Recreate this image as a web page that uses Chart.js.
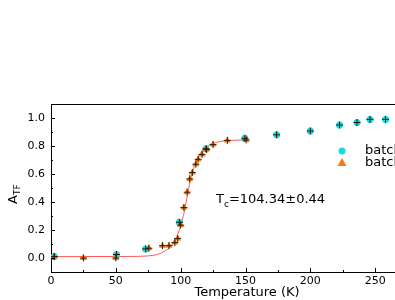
<!DOCTYPE html>
<html>
<head>
<meta charset="utf-8">
<script src="https://cdn.jsdelivr.net/npm/chart.js@4/dist/chart.umd.min.js"></script>
<style>
html,body{margin:0;padding:0;background:#fff;overflow:hidden;width:395px;height:300px;}
#wrap{position:absolute;left:0;top:0;width:445px;height:300px;}
</style>
</head>
<body>
<div id="wrap"><canvas id="c" width="445" height="300"></canvas></div>
<script>
// ---- data ----
const batch1Label = "batch1";
const batch2Label = "batch2";
const batch1T = [2.5, 50.5, 73, 99, 119.5, 149.5, 174, 200, 222.5, 236, 246, 258];
const batch1A = [0.01, 0.025, 0.065, 0.255, 0.78, 0.855, 0.88, 0.907, 0.95, 0.968, 0.99, 0.99];
const batch2T = [2.5, 25, 50, 75.5, 86, 91, 95.5, 97.7, 100, 102.5, 105, 107, 109, 111.7, 113.5, 116.5, 120, 125, 136, 150.5];
const batch2A = [0.01, 0.0, 0.0, 0.07, 0.088, 0.088, 0.11, 0.14, 0.235, 0.36, 0.47, 0.565, 0.61, 0.67, 0.705, 0.74, 0.775, 0.81, 0.84, 0.843];
const fitT = [0, 60, 75, 82, 88, 92, 96, 100, 103, 106, 109, 112, 115, 118, 122, 127, 135, 150];
const fitA = [0.01, 0.011, 0.015, 0.025, 0.05, 0.08, 0.13, 0.23, 0.34, 0.49, 0.61, 0.69, 0.745, 0.78, 0.805, 0.825, 0.838, 0.843];
const xTicks = [0, 50, 100, 150, 200, 250];
const xMinorTicks = [25, 75, 125, 175, 225, 275];
const yTicks = [0.0, 0.2, 0.4, 0.6, 0.8, 1.0];
const yMinorTicks = [-0.1, 0.1, 0.3, 0.5, 0.7, 0.9, 1.1];
const xTitle = "Temperature (K)";
const yTitleMain = "A";
const yTitleSub = "TF";
const annMain = "T";
const annSub = "c";
const annRest = "=104.34±0.44";

const pts = (xs, ys) => xs.map((x, i) => ({x: x, y: ys[i]}));

const CYAN = '#18dcdc';
const ORANGE = '#f07c10';
const FONT = '"DejaVu Sans", sans-serif';

const decor = {
  id: 'decor',
  afterDraw(chart) {
    const ctx = chart.ctx;
    const xs = chart.scales.x, ys = chart.scales.y;
    const a = chart.chartArea;
    ctx.save();
    ctx.strokeStyle = '#000';
    ctx.lineWidth = 1;
    // top border
    ctx.beginPath();
    ctx.moveTo(a.left, a.top + 0.5); ctx.lineTo(a.right, a.top + 0.5);
    ctx.stroke();
    // inward ticks
    ctx.beginPath();
    yTicks.forEach(v => { const y = Math.round(ys.getPixelForValue(v)) + 0.5; ctx.moveTo(a.left, y); ctx.lineTo(a.left + 4, y); });
    yMinorTicks.forEach(v => { const y = Math.round(ys.getPixelForValue(v)) + 0.5; ctx.moveTo(a.left, y); ctx.lineTo(a.left + 2, y); });
    xTicks.forEach(v => { const x = Math.round(xs.getPixelForValue(v)) + 0.5; ctx.moveTo(x, a.bottom); ctx.lineTo(x, a.bottom - 4); });
    xMinorTicks.forEach(v => { const x = Math.round(xs.getPixelForValue(v)) + 0.5; ctx.moveTo(x, a.bottom); ctx.lineTo(x, a.bottom - 2); });
    ctx.stroke();

    ctx.fillStyle = '#000';
    // x title
    ctx.font = '13px ' + FONT;
    ctx.textAlign = 'center';
    ctx.textBaseline = 'middle';
    ctx.fillText(xTitle, 247, 293);

    // y title (rotated, with subscript)
    ctx.save();
    ctx.translate(17, 198);
    ctx.rotate(-Math.PI / 2);
    ctx.textAlign = 'left';
    ctx.textBaseline = 'alphabetic';
    ctx.font = '13px ' + FONT;
    const wA = ctx.measureText(yTitleMain).width;
    ctx.fillText(yTitleMain, -6, 0);
    ctx.font = '9px ' + FONT;
    ctx.fillText(yTitleSub, -6 + wA, 3);
    ctx.restore();

    // annotation
    ctx.textAlign = 'left';
    ctx.textBaseline = 'alphabetic';
    ctx.font = '13px ' + FONT;
    let x0 = 216;
    ctx.fillText(annMain, x0, 203);
    x0 += ctx.measureText(annMain).width;
    ctx.font = '9px ' + FONT;
    ctx.fillText(annSub, x0, 207);
    x0 += ctx.measureText(annSub).width;
    ctx.font = '13px ' + FONT;
    ctx.fillText(annRest, x0, 203);

    // legend
    ctx.fillStyle = CYAN;
    ctx.beginPath(); ctx.arc(342, 151, 3.5, 0, Math.PI * 2); ctx.fill();
    ctx.fillStyle = ORANGE;
    ctx.beginPath(); ctx.moveTo(342, 158); ctx.lineTo(346.5, 166); ctx.lineTo(337.5, 166); ctx.closePath(); ctx.fill();
    ctx.fillStyle = '#000';
    ctx.font = '13px ' + FONT;
    ctx.textBaseline = 'middle';
    ctx.fillText(batch1Label, 365, 151);
    ctx.fillText(batch2Label, 365, 163);
    ctx.restore();
  }
};

new Chart(document.getElementById('c'), {
  type: 'scatter',
  data: {
    datasets: [
      {label: 'fit', type: 'line', data: pts(fitT, fitA), borderColor: '#ff5a5a', borderWidth: 1,
       pointRadius: 0, cubicInterpolationMode: 'monotone', fill: false, order: 5},
      {label: batch1Label, data: pts(batch1T, batch1A), pointStyle: 'circle', pointRadius: 3.5,
       backgroundColor: CYAN, borderColor: CYAN, borderWidth: 0, order: 3},
      {label: batch2Label, data: pts(batch2T, batch2A), pointStyle: 'triangle', pointRadius: 4,
       backgroundColor: ORANGE, borderColor: ORANGE, borderWidth: 0, order: 2},
      {label: 'err1', data: pts(batch1T, batch1A), pointStyle: 'cross', pointRadius: 3.5,
       borderColor: '#1a1a1a', borderWidth: 1, order: 1},
      {label: 'err2', data: pts(batch2T, batch2A), pointStyle: 'cross', pointRadius: 3.5,
       borderColor: '#3a1a00', borderWidth: 1, order: 0}
    ]
  },
  options: {
    responsive: false,
    animation: false,
    devicePixelRatio: 1,
    layout: {padding: {top: 104, left: 0, right: 1, bottom: 0}},
    plugins: {legend: {display: false}, tooltip: {enabled: false}},
    scales: {
      x: {
        type: 'linear', min: 0, max: 300,
        afterFit: s => { s.height = 28; s.paddingRight = 0; s.paddingLeft = 0; },
        afterBuildTicks: s => { s.ticks = xTicks.map(v => ({value: v})); },
        grid: {display: false, drawTicks: false},
        border: {display: true, color: '#000', width: 1},
        ticks: {color: '#000', font: {family: '"DejaVu Sans", sans-serif', size: 11}, padding: 3,
                maxRotation: 0, autoSkip: false, callback: v => String(v)}
      },
      y: {
        type: 'linear', min: -0.1, max: 1.1,
        afterFit: s => { s.width = 51; },
        afterBuildTicks: s => { s.ticks = yTicks.map(v => ({value: v})); },
        grid: {display: false, drawTicks: false},
        border: {display: true, color: '#000', width: 1},
        ticks: {color: '#000', font: {family: '"DejaVu Sans", sans-serif', size: 11}, padding: 6,
                autoSkip: false, callback: v => Number(v).toFixed(1)}
      }
    }
  },
  plugins: [decor]
});
</script>
</body>
</html>
